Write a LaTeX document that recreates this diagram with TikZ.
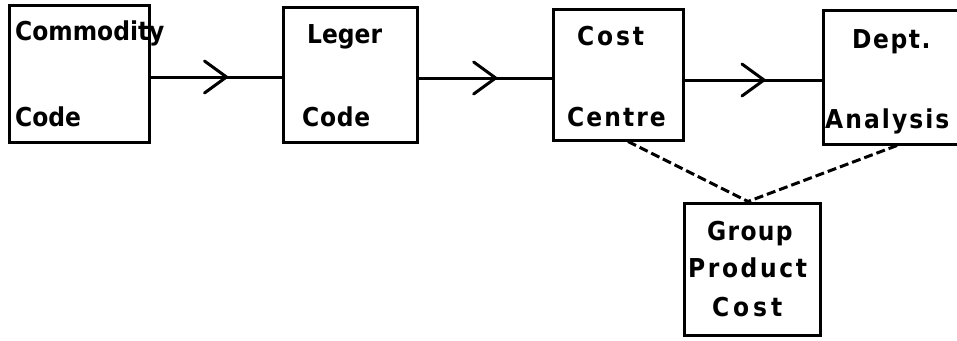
\documentclass[tikz,border=0pt]{standalone}
\usepackage{fontspec}
\setmainfont{DejaVu Sans Condensed}
\usetikzlibrary{decorations.markings}
\tikzset{
  box/.style={draw, line width=3pt, inner sep=0pt},
  lbl/.style={anchor=base west, inner sep=0pt, font=\bfseries\fontsize{26}{30}\selectfont\addfontfeatures{LetterSpace=#1}},
  lbl/.default=0,
  flow/.style={line width=3pt, decoration={markings, mark=at position 0.58 with {\draw[line width=3pt, line cap=round, line join=miter] (-22pt,16pt) -- (0pt,0pt) -- (-22pt,-16pt);}}, postaction={decorate}},
  link/.style={line width=3pt, dash pattern=on 9pt off 4pt}
}
\begin{document}
\begin{tikzpicture}[x=1pt, y=-1pt]
\useasboundingbox (0,0) rectangle (957,340);
\fill[white] (0,0) rectangle (957,340);
% boxes
\node[box, minimum width=140pt, minimum height=137pt] (b1) at (79,74) {};
\node[box, minimum width=134pt, minimum height=135pt] (b2) at (350,74.5) {};
\node[box, minimum width=130pt, minimum height=131pt] (b3) at (618,74.5) {};
\node[box, minimum width=142pt, minimum height=134pt] (b4) at (894,77) {};
\node[box, minimum width=136pt, minimum height=132pt] (b5) at (752,269) {};
% labels
\node[lbl=0] (t1a) at (15,40) {Commodity};
\node[lbl=0] (t1b) at (15,126) {Code};
\node[lbl=0] (t2a) at (307,43) {Leger};
\node[lbl=3] (t2b) at (302,126) {Code};
\node[lbl=11] (t3a) at (577,45) {Cost};
\node[lbl=8] (t3b) at (567,126) {Centre};
\node[lbl=6] (t4a) at (852,48) {Dept.};
\node[lbl=8] (t4b) at (825,128) {Analysis};
\node[lbl=5] (t5a) at (707,240) {Group};
\node[lbl=10] (t5b) at (688,277) {Product};
\node[lbl=15] (t5c) at (712,316) {Cost};
% connectors
\draw[flow] ([yshift=-3pt]b1.east) -- ([yshift=-3pt]b1.east -| b2.west);
\draw[flow] ([yshift=-3.5pt]b2.east) -- ([yshift=-3.5pt]b2.east -| b3.west);
\draw[flow] ([yshift=-5.5pt]b3.east) -- ([yshift=-5.5pt]b3.east -| b4.west);
\draw[link] ([xshift=10pt]b3.south) -- ([xshift=-4pt]b5.north);
\draw[link] ([xshift=3pt]b4.south) -- ([xshift=-4pt]b5.north);
\end{tikzpicture}
\end{document}
